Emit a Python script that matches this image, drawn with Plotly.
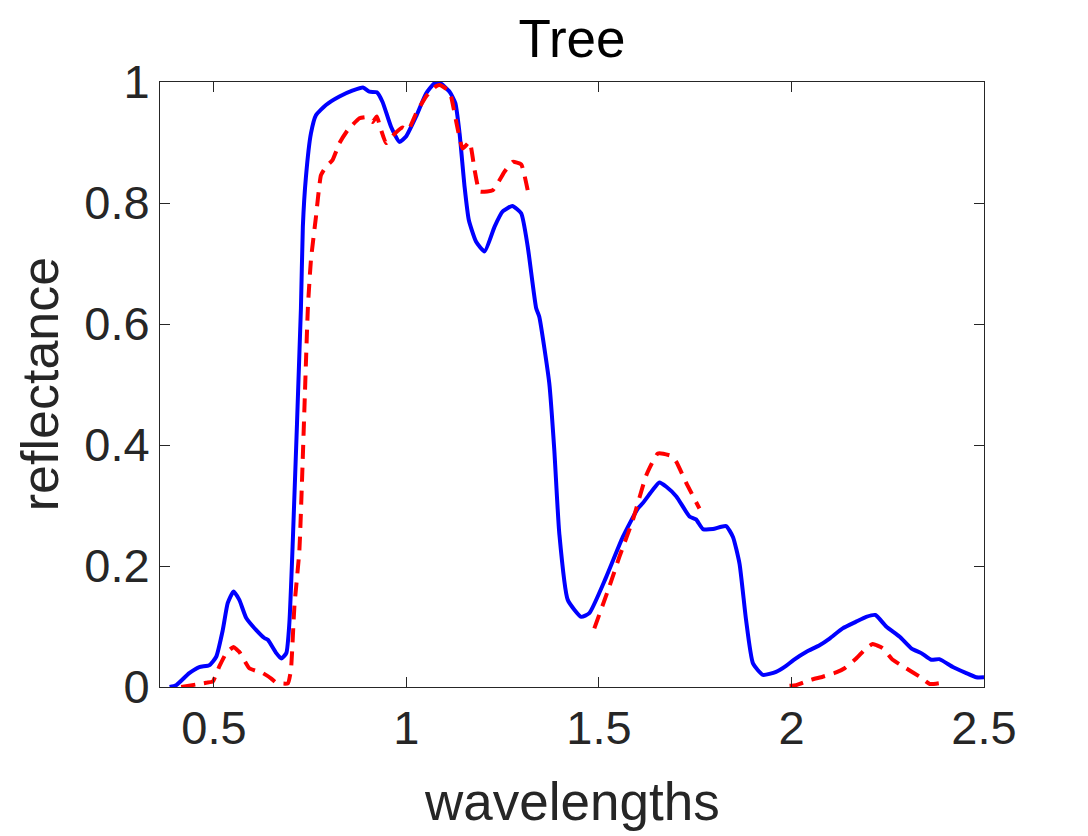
import plotly.graph_objects as go

# ---- data ----
blue_w = [0.385, 0.402, 0.436, 0.462, 0.488, 0.506, 0.523, 0.536, 0.551, 0.566, 0.584, 0.61, 0.631, 0.64,
          0.662, 0.675, 0.688, 0.696, 0.705, 0.726, 0.731, 0.739, 0.752, 0.765, 0.791, 0.826, 0.861, 0.887,
          0.904, 0.923, 0.938, 0.96, 0.982, 0.999, 1.025, 1.051, 1.073, 1.086, 1.112, 1.127, 1.138, 1.151,
          1.162, 1.181, 1.203, 1.229, 1.25, 1.275, 1.298, 1.315, 1.337, 1.345, 1.371, 1.384, 1.397, 1.419,
          1.454, 1.475, 1.519, 1.562, 1.601, 1.614, 1.64, 1.657, 1.675, 1.701, 1.735, 1.752, 1.77, 1.796,
          1.83, 1.848, 1.865, 1.882, 1.9, 1.926, 1.96, 1.986, 2.006, 2.038, 2.073, 2.099, 2.133, 2.168,
          2.194, 2.218, 2.246, 2.281, 2.311, 2.337, 2.363, 2.384, 2.419, 2.454, 2.48, 2.5]
blue_r = [0.0, 0.003, 0.023, 0.033, 0.036, 0.05, 0.094, 0.139, 0.158, 0.144, 0.114, 0.094, 0.081, 0.078,
          0.056, 0.047, 0.056, 0.106, 0.243, 0.626, 0.761, 0.843, 0.915, 0.945, 0.962, 0.976, 0.986, 0.991,
          0.984, 0.983, 0.967, 0.926, 0.901, 0.91, 0.943, 0.981, 0.998, 0.999, 0.984, 0.965, 0.915, 0.827,
          0.772, 0.736, 0.72, 0.761, 0.786, 0.795, 0.783, 0.728, 0.626, 0.612, 0.502, 0.392, 0.254, 0.144,
          0.116, 0.122, 0.182, 0.248, 0.295, 0.304, 0.326, 0.338, 0.331, 0.315, 0.282, 0.277, 0.261, 0.261,
          0.266, 0.248, 0.204, 0.111, 0.039, 0.02, 0.025, 0.035, 0.045, 0.058, 0.069, 0.08, 0.097, 0.108,
          0.116, 0.119, 0.1, 0.083, 0.064, 0.056, 0.045, 0.046, 0.033, 0.023, 0.016, 0.016]

red_w = [0.415, 0.48, 0.497, 0.514, 0.532, 0.551, 0.566, 0.592, 0.627, 0.649, 0.662, 0.692, 0.7, 0.709,
         0.722, 0.744, 0.752, 0.765, 0.778, 0.791, 0.808, 0.826, 0.848, 0.878, 0.895, 0.912, 0.923, 0.934,
         0.947, 0.97, 0.99, 1.005, 1.025, 1.051, 1.077, 1.086, 1.107, 1.116, 1.146, 1.164, 1.177, 1.19,
         1.224, 1.255, 1.276, 1.298, 1.319,
         1.40,
         1.488, 1.527, 1.553, 1.588, 1.623, 1.653, 1.688, 1.701, 1.727, 1.761,
         1.90,
         1.995, 2.012, 2.051, 2.081, 2.116, 2.138, 2.168, 2.194, 2.211, 2.237, 2.263, 2.298, 2.333, 2.359,
         2.389]
red_r = [0.0, 0.007, 0.009, 0.034, 0.056, 0.066, 0.058, 0.031, 0.023, 0.014, 0.007, 0.006, 0.028, 0.133,
         0.226, 0.626, 0.706, 0.777, 0.846, 0.86, 0.871, 0.899, 0.921, 0.94, 0.942, 0.934, 0.943, 0.921,
         0.899, 0.915, 0.925, 0.921, 0.948, 0.976, 0.993, 0.995, 0.987, 0.976, 0.89, 0.901, 0.855, 0.819,
         0.821, 0.852, 0.868, 0.864, 0.808,
         None,
         0.097, 0.166, 0.215, 0.276, 0.35, 0.386, 0.382, 0.372, 0.337, 0.295,
         None,
         0.002, 0.003, 0.012, 0.017, 0.024, 0.031, 0.047, 0.064, 0.071, 0.064, 0.045, 0.031, 0.017, 0.005,
         0.007]

x_ticks = [0.5, 1, 1.5, 2, 2.5]
x_ticklabels = ["0.5", "1", "1.5", "2", "2.5"]
y_ticks = [0, 0.2, 0.4, 0.6, 0.8, 1]
y_ticklabels = ["0", "0.2", "0.4", "0.6", "0.8", "1"]

FONT = "Liberation Sans, Arial, Helvetica, sans-serif"
TXT = "#262626"

fig = go.Figure()
fig.add_trace(go.Scatter(x=blue_w, y=blue_r, mode="lines",
                         line=dict(color="#0000FF", width=4, shape="spline", smoothing=0.5),
                         showlegend=False))
fig.add_trace(go.Scatter(x=red_w, y=red_r, mode="lines", connectgaps=False,
                         line=dict(color="#FF0000", width=4, dash="14px,9px", shape="spline", smoothing=0.4),
                         showlegend=False))

axis_common = dict(showgrid=False, zeroline=False, showline=True, linecolor=TXT, linewidth=1,
                   mirror="ticks", ticks="inside", ticklen=10, tickcolor=TXT, tickwidth=1,
                   tickfont=dict(family=FONT, size=47, color=TXT))

fig.update_layout(
    width=1088, height=836,
    margin=dict(l=160, r=104, t=82, b=149),
    paper_bgcolor="white", plot_bgcolor="white",
    title=dict(text="Tree", x=0.5, xref="paper", xanchor="center", y=1 - 38 / 836, yref="container",
               yanchor="middle", font=dict(family=FONT, size=53, color="black")),
    xaxis=dict(range=[0.36, 2.5], tickvals=x_ticks, ticktext=x_ticklabels, **axis_common),
    yaxis=dict(range=[0, 1], tickvals=y_ticks, ticktext=y_ticklabels, ticklabelstandoff=0, **axis_common),
)

fig.add_annotation(text="wavelengths", xref="paper", yref="paper", x=0.5, y=-0.19,
                   xanchor="center", yanchor="middle", showarrow=False,
                   font=dict(family=FONT, size=53, color=TXT))
fig.add_annotation(text="reflectance", xref="paper", yref="paper", x=-0.146, y=0.5,
                   xanchor="center", yanchor="middle", textangle=-90, showarrow=False,
                   font=dict(family=FONT, size=52, color=TXT))

fig.write_html("out.html", config={"displayModeBar": False})
